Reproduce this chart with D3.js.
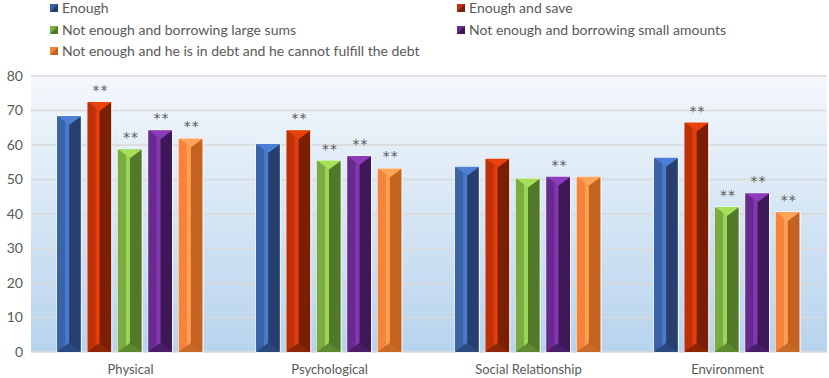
<!DOCTYPE html>
<html>
<head>
<meta charset="utf-8">
<script src="https://cdn.jsdelivr.net/npm/d3@7"></script>
<style>
  body { margin: 0; background: #fff; }
  text { font-family: Lato, "Open Sans", sans-serif; fill: #595959; }
</style>
</head>
<body>
<svg id="chart" width="829" height="378"></svg>
<script>
const categories = ["Physical", "Psychological", "Social Relationship", "Environment"];
const seriesNames = [
  "Enough",
  "Enough and save",
  "Not enough and borrowing large sums",
  "Not enough and borrowing small amounts",
  "Not enough and he is in debt and he cannot fulfill the debt"
];
const enough        = [68.4, 60.3, 53.7, 56.3];
const enoughSave    = [72.5, 64.3, 56.0, 66.5];
const borrowLarge   = [58.8, 55.5, 50.3, 42.0];
const borrowSmall   = [64.3, 56.8, 50.8, 46.0];
const inDebt        = [61.9, 53.2, 50.8, 40.6];
// significance marks (**) per series, per category
const starsEnough      = [false, false, false, false];
const starsEnoughSave  = [true, true, false, true];
const starsBorrowLarge = [true, true, false, true];
const starsBorrowSmall = [true, true, true, true];
const starsInDebt      = [true, true, false, true];
const yTicks = [0, 10, 20, 30, 40, 50, 60, 70, 80];

const seriesValues = [enough, enoughSave, borrowLarge, borrowSmall, inDebt];
const seriesStars = [starsEnough, starsEnoughSave, starsBorrowLarge, starsBorrowSmall, starsInDebt];

// main / light / dark shades for the bevelled bars
const palette = [
  { main: "#3a63a8", light: "#4d80d4", dark: "#263f6e", bot: "#2b4a80" },
  { main: "#bf3008", light: "#e8420f", dark: "#7a1f04", bot: "#8c2606" },
  { main: "#7aac42", light: "#a4e05a", dark: "#52782a", bot: "#5d8a30" },
  { main: "#682a8e", light: "#8a3cba", dark: "#3e1856", bot: "#4a1d68" },
  { main: "#f5843a", light: "#ffa55a", dark: "#c4621f", bot: "#c86a2a" }
];

const svg = d3.select("#chart");
const plotLeft = 31, plotRight = 827, plotTop = 76, plotBottom = 352;

const x0 = d3.scaleBand().domain(categories).range([plotLeft, plotRight]).padding(0);
const x1 = d3.scaleBand().domain(d3.range(seriesNames.length))
  .range([26, 172]).paddingInner(0.2).paddingOuter(0);
const y = d3.scaleLinear().domain([0, 80]).range([plotBottom, plotTop]);

// plot background gradient
const defs = svg.append("defs");
const bg = defs.append("linearGradient").attr("id", "plotbg")
  .attr("x1", "0%").attr("y1", "0%").attr("x2", "0%").attr("y2", "100%");
bg.append("stop").attr("offset", "0%").attr("stop-color", "#f4f8fc");
bg.append("stop").attr("offset", "100%").attr("stop-color", "#b7d3ed");

svg.append("rect")
  .attr("x", plotLeft).attr("y", plotTop)
  .attr("width", plotRight - plotLeft).attr("height", plotBottom - plotTop)
  .attr("fill", "url(#plotbg)");

// gridlines
svg.append("g")
  .selectAll("line")
  .data(yTicks)
  .join("line")
  .attr("x1", plotLeft).attr("x2", plotRight)
  .attr("y1", d => y(d)).attr("y2", d => y(d))
  .attr("stroke", "#d9d9d9")
  .attr("stroke-width", 1.5);

// y axis labels
const yAxis = svg.append("g")
  .attr("transform", `translate(${plotLeft - 8},0)`)
  .call(d3.axisLeft(y).tickValues(yTicks).tickSize(0).tickPadding(0));
yAxis.select(".domain").remove();
yAxis.selectAll("text")
  .style("font-size", "14px")
  .style("font-family", "Lato, sans-serif")
  .attr("fill", "#595959");

// x axis labels
const xAxis = svg.append("g")
  .attr("transform", `translate(0,${plotBottom + 10})`)
  .call(d3.axisBottom(x0).tickSize(0).tickPadding(0));
xAxis.select(".domain").remove();
xAxis.selectAll("text")
  .style("font-size", "13px")
  .style("font-family", "Lato, sans-serif")
  .attr("fill", "#595959")
  .attr("dy", "0.9em");

// bars
const barData = [];
categories.forEach((c, ci) => {
  seriesValues.forEach((vals, si) => {
    barData.push({ cat: c, s: si, v: vals[ci], star: seriesStars[si][ci] });
  });
});

const bars = svg.append("g")
  .selectAll("g")
  .data(barData)
  .join("g");

bars.each(function(d) {
  const g = d3.select(this);
  const col = palette[d.s];
  const bx = x0(d.cat) + x1(d.s);
  const w = x1.bandwidth();
  const bx1 = bx + w;
  const xc = bx + w / 2;
  const y0 = y(d.v);
  const yb = y(0);
  const dep = Math.min(9, (yb - y0) / 2);

  // dark right face (full rect underneath)
  g.append("rect")
    .attr("x", bx).attr("y", y0).attr("width", w).attr("height", yb - y0)
    .attr("fill", col.dark)
    .attr("stroke", "#ffffff").attr("stroke-width", 1);
  // left face
  g.append("polygon")
    .attr("points", [[bx, y0], [xc, y0 + dep], [xc, yb - dep], [bx, yb]].join(" "))
    .attr("fill", col.main);
  // highlight stripe
  g.append("polygon")
    .attr("points", [[xc - 4, y0 + dep * 0.6], [xc, y0 + dep], [xc, yb - dep], [xc - 4, yb - dep * 0.6]].join(" "))
    .attr("fill", col.light)
    .attr("opacity", 0.8);
  // top bevel
  g.append("polygon")
    .attr("points", [[bx, y0], [bx1, y0], [xc, y0 + dep]].join(" "))
    .attr("fill", col.light);
  // bottom bevel
  g.append("polygon")
    .attr("points", [[bx, yb], [bx1, yb], [xc, yb - dep]].join(" "))
    .attr("fill", col.bot);

  if (d.star) {
    g.append("text")
      .attr("x", xc + 1).attr("y", y0 - 7)
      .attr("text-anchor", "middle")
      .style("font-size", "14px")
      .style("font-family", "DejaVu Sans, sans-serif")
      .style("letter-spacing", "1px")
      .attr("fill", "#7f7f7f")
      .text("**");
  }
});

// legend
const legendPos = [
  [50, 8], [457, 8],
  [50, 30], [457, 30],
  [50, 51]
];
const legend = svg.append("g")
  .selectAll("g")
  .data(seriesNames)
  .join("g")
  .attr("transform", (d, i) => `translate(${legendPos[i][0]},${legendPos[i][1]})`);

legend.append("rect")
  .attr("x", 0).attr("y", -4).attr("width", 8).attr("height", 8)
  .attr("fill", (d, i) => palette[i].main);
legend.append("polygon")
  .attr("points", "0,4 8,-4 8,4")
  .attr("fill", (d, i) => palette[i].dark);
legend.append("text")
  .attr("x", 12).attr("y", 0).attr("dy", "0.35em")
  .style("font-size", "14px")
  .style("font-family", "Lato, sans-serif")
  .attr("fill", "#595959")
  .text(d => d);
</script>
</body>
</html>
